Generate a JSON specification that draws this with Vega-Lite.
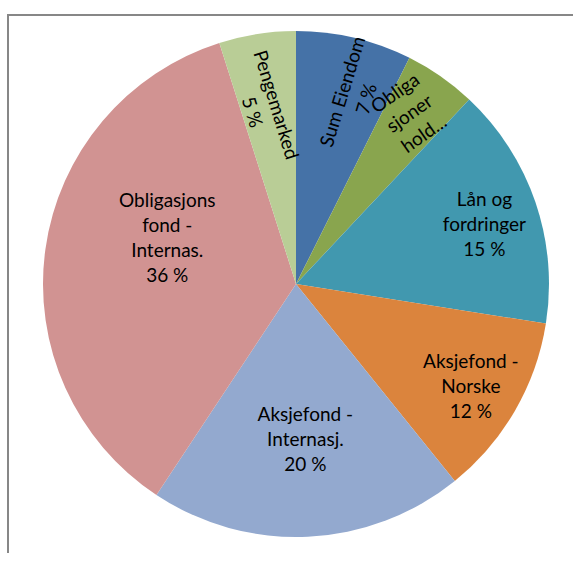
{
  "$schema": "https://vega.github.io/schema/vega-lite/v6.json",
  "width": 576,
  "height": 538,
  "autosize": {"type": "none"},
  "padding": {"left": 8, "top": 15, "right": -11, "bottom": 8},
  "background": "white",
  "view": {"stroke": "#878787", "strokeWidth": 2, "strokeDash": [576, 1114, 538], "fill": "white"},
  "data": {
    "values": [
      {"cat": "Sum Eiendom", "value": 7.4, "ord": 1, "label": "Sum Eiendom\n7 %"},
      {"cat": "Obligasjoner hold...", "value": 4.6, "ord": 2, "label": "Obliga\nsjoner\nhold..."},
      {"cat": "Lån og fordringer", "value": 15.5, "ord": 3, "label": "Lån og\nfordringer\n15 %"},
      {"cat": "Aksjefond - Norske", "value": 11.7, "ord": 4, "label": "Aksjefond -\nNorske\n12 %"},
      {"cat": "Aksjefond - Internasj.", "value": 20.1, "ord": 5, "label": "Aksjefond -\nInternasj.\n20 %"},
      {"cat": "Obligasjons fond - Internas.", "value": 35.8, "ord": 6, "label": "Obligasjons\nfond -\nInternas.\n36 %"},
      {"cat": "Pengemarked", "value": 4.9, "ord": 7, "label": "Pengemarked\n5 %"}
    ]
  },
  "encoding": {
    "theta": {"field": "value", "type": "quantitative", "stack": true},
    "order": {"field": "ord", "type": "quantitative"},
    "detail": {"field": "cat", "type": "nominal"}
  },
  "layer": [
    {
      "mark": {"type": "arc", "radius": 253},
      "encoding": {
        "color": {
          "field": "cat",
          "type": "nominal",
          "legend": null,
          "scale": {
            "domain": ["Sum Eiendom", "Obligasjoner hold...", "Lån og fordringer", "Aksjefond - Norske", "Aksjefond - Internasj.", "Obligasjons fond - Internas.", "Pengemarked"],
            "range": ["#4572A7", "#89A54E", "#4198AF", "#DB843D", "#93A9CF", "#D19392", "#B9CD96"]
          }
        }
      }
    },
    {
      "mark": {"type": "text", "radius": 197, "angle": -73, "dx": 1, "dy": 1.5, "font": "Lato", "fontSize": 19, "lineHeight": 25, "lineBreak": "\n", "fill": "black", "align": "center", "baseline": "middle"},
      "encoding": {"text": {"condition": {"test": "datum.cat === 'Sum Eiendom'", "field": "label"}, "value": ""}}
    },
    {
      "mark": {"type": "text", "radius": 201, "angle": -35, "dx": 2, "dy": -30, "font": "Lato", "fontSize": 19, "lineHeight": 25, "lineBreak": "\n", "fill": "black", "align": "center", "baseline": "middle"},
      "encoding": {"text": {"condition": {"test": "datum.cat === 'Obligasjoner hold...'", "field": "label"}, "value": ""}}
    },
    {
      "mark": {"type": "text", "radius": 197, "dx": 2, "dy": -20, "font": "Lato", "fontSize": 19, "lineHeight": 25, "lineBreak": "\n", "fill": "black", "align": "center", "baseline": "middle"},
      "encoding": {"text": {"condition": {"test": "datum.cat === 'Lån og fordringer'", "field": "label"}, "value": ""}}
    },
    {
      "mark": {"type": "text", "radius": 202, "dy": -23, "font": "Lato", "fontSize": 19, "lineHeight": 25, "lineBreak": "\n", "fill": "black", "align": "center", "baseline": "middle"},
      "encoding": {"text": {"condition": {"test": "datum.cat === 'Aksjefond - Norske'", "field": "label"}, "value": ""}}
    },
    {
      "mark": {"type": "text", "radius": 156, "dx": 2, "dy": -25, "font": "Lato", "fontSize": 19, "lineHeight": 25, "lineBreak": "\n", "fill": "black", "align": "center", "baseline": "middle"},
      "encoding": {"text": {"condition": {"test": "datum.cat === 'Aksjefond - Internasj.'", "field": "label"}, "value": ""}}
    },
    {
      "mark": {"type": "text", "radius": 134, "dx": 4, "dy": -64.5, "font": "Lato", "fontSize": 19, "lineHeight": 25, "lineBreak": "\n", "fill": "black", "align": "center", "baseline": "middle"},
      "encoding": {"text": {"condition": {"test": "datum.cat === 'Obligasjons fond - Internas.'", "field": "label"}, "value": ""}}
    },
    {
      "mark": {"type": "text", "radius": 178, "angle": 73, "dx": -1, "dy": -7.5, "font": "Lato", "fontSize": 19, "lineHeight": 25, "lineBreak": "\n", "fill": "black", "align": "center", "baseline": "middle"},
      "encoding": {"text": {"condition": {"test": "datum.cat === 'Pengemarked'", "field": "label"}, "value": ""}}
    }
  ]
}
